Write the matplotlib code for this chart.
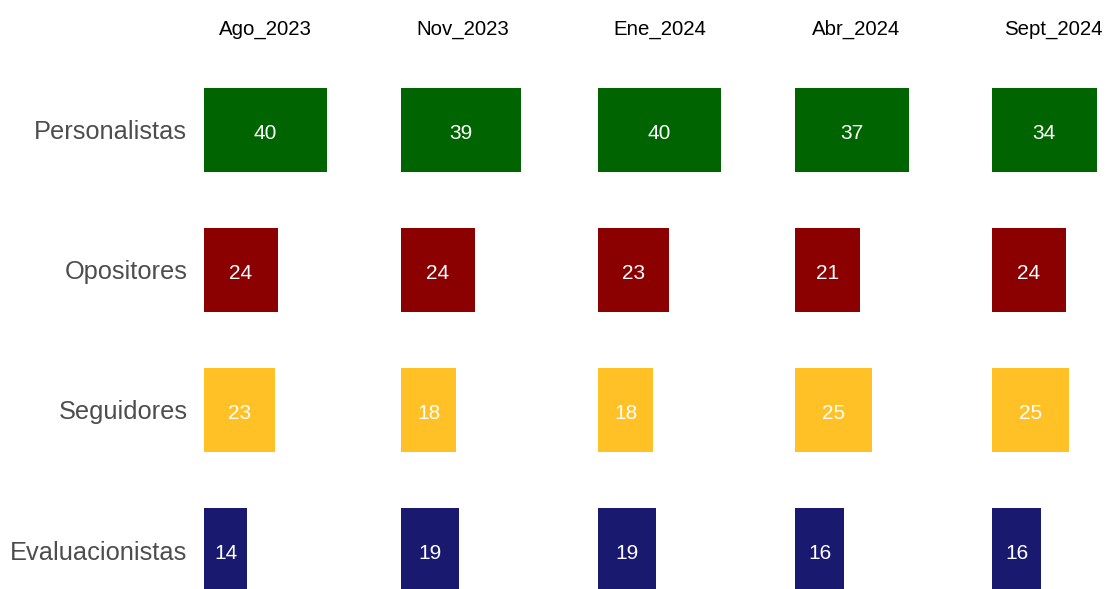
import matplotlib
matplotlib.use("Agg")
from matplotlib import pyplot as plt
import numpy as np

plt.rcParams['font.family'] = ['Liberation Sans', 'DejaVu Sans']

periodos = ['Ago_2023', 'Nov_2023', 'Ene_2024', 'Abr_2024', 'Sept_2024']
categorias = ['Personalistas', 'Opositores', 'Seguidores', 'Evaluacionistas']
colores = ['#006400', '#8B0000', '#FFC125', '#191970']

personalistas = [40, 39, 40, 37, 34]
opositores = [24, 24, 23, 21, 24]
seguidores = [23, 18, 18, 25, 25]
evaluacionistas = [14, 19, 19, 16, 16]

valores = np.array([personalistas, opositores, seguidores, evaluacionistas])

W, H = 1110, 589
fig = plt.figure(figsize=(W / 100, H / 100), dpi=100)

# geometria de los paneles (pixeles)
x0 = 204
paso = 197
ancho = 123
top, bottom = 60, 589
y = np.arange(len(categorias))

for j, per in enumerate(periodos):
    left = x0 + j * paso
    ax = fig.add_axes([left / W, (H - bottom) / H, ancho / W, (bottom - top) / H])
    ax.barh(y, valores[:, j], height=0.6, color=colores)
    for i in range(len(categorias)):
        v = valores[i, j]
        ax.text(v / 2, y[i] + 0.012, str(v), color='white', ha='center',
                va='center_baseline', fontsize=15)
    ax.set_xlim(0, 40)
    ax.set_ylim((bottom - 130) / 140, -0.5)
    ax.set_xticks([])
    for s in ax.spines.values():
        s.set_visible(False)
    if j == 0:
        ax.set_yticks(y)
        ax.set_yticklabels(categorias, fontsize=18.3, color='#4D4D4D')
        ax.tick_params(axis='y', length=0, pad=12)
    else:
        ax.set_yticks([])
    fig.text((left + ancho / 2) / W, 1 - 27 / H, per, ha='center', va='center_baseline',
             fontsize=14.7, color='black')

plt.savefig('out.png', dpi=100)
plt.close()
